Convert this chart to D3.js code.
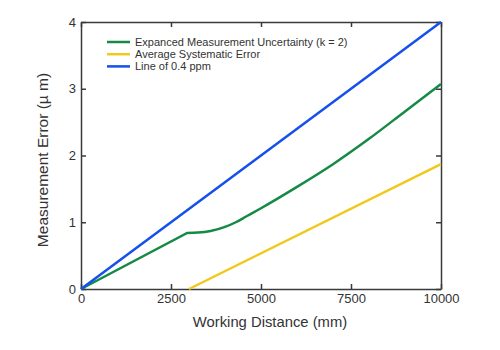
<!DOCTYPE html>
<html>
<head>
<meta charset="utf-8">
<script src="https://cdn.jsdelivr.net/npm/d3@7"></script>
<style>
  body { margin: 0; background: #fff; }
  text { font-family: "Liberation Sans", Arial, sans-serif; fill: #333; }
</style>
</head>
<body>
<div id="chart"></div>
<script>
// data
// straight rise up to the kink, then the curved part
const uncertaintyRise = [[0, 0], [2950, 0.84]];
const uncertaintyCurve = [
  [2950, 0.84], [3250, 0.845], [3600, 0.868], [4000, 0.93], [4300, 1.0],
  [4600, 1.09], [5000, 1.21], [6000, 1.53], [7000, 1.87], [8000, 2.25],
  [9000, 2.66], [10000, 3.07]
];
const systematic = [[3000, 0], [10000, 1.87]];
const ppmLine = [[0, 0], [10000, 4]];

const xTicks = [0, 2500, 5000, 7500, 10000];
const yTicks = [0, 1, 2, 3, 4];

const seriesNames = [
  'Expanced Measurement Uncertainty (k = 2)',
  'Average Systematic Error',
  'Line of 0.4 ppm'
];
const seriesColors = ['#148a45', '#f0c91c', '#1550ec'];

const width = 500, height = 350;
const margin = {top: 22, right: 59, bottom: 61, left: 81};

const svg = d3.select('#chart')
  .append('svg')
  .attr('width', width)
  .attr('height', height);

const x = d3.scaleLinear()
  .domain([0, 10000])
  .range([margin.left, width - margin.right]);
const y = d3.scaleLinear()
  .domain([0, 4])
  .range([height - margin.bottom, margin.top]);

const tickLen = 5;

// bottom axis
svg.append('g')
  .attr('transform', 'translate(0,' + y(0) + ')')
  .call(d3.axisBottom(x).tickValues(xTicks).tickFormat(d3.format('d'))
    .tickSizeInner(-tickLen).tickSizeOuter(0).tickPadding(5))
  .call(g => g.selectAll('text').attr('dy', '0.71em').style('font-size', '13px'));

// top axis, ticks only
svg.append('g')
  .attr('transform', 'translate(0,' + y(4) + ')')
  .call(d3.axisTop(x).tickValues(xTicks).tickSizeInner(-tickLen).tickSizeOuter(0).tickFormat(''));

// left axis
svg.append('g')
  .attr('transform', 'translate(' + x(0) + ',0)')
  .call(d3.axisLeft(y).tickValues(yTicks).tickFormat(d3.format('d'))
    .tickSizeInner(-tickLen).tickSizeOuter(0).tickPadding(5))
  .call(g => g.selectAll('text').style('font-size', '13px'));

// right axis, ticks only
svg.append('g')
  .attr('transform', 'translate(' + x(10000) + ',0)')
  .call(d3.axisRight(y).tickValues(yTicks).tickSizeInner(-tickLen).tickSizeOuter(0).tickFormat(''));

svg.selectAll('.domain, .tick line')
  .attr('stroke', '#3a3a3a')
  .attr('stroke-width', 1.5);
svg.selectAll('.tick text').attr('fill', '#333');

// series
const straight = d3.line()
  .x(d => x(d[0]))
  .y(d => y(d[1]));
const smooth = d3.line()
  .x(d => x(d[0]))
  .y(d => y(d[1]))
  .curve(d3.curveMonotoneX);

// green path = straight part + smooth part joined together
const greenPath = straight(uncertaintyRise) + smooth(uncertaintyCurve).replace(/^M[^LC]*/, '');

const plot = svg.append('g');
plot.append('path')
  .attr('d', greenPath)
  .attr('fill', 'none')
  .attr('stroke', seriesColors[0])
  .attr('stroke-width', 2.5);

[systematic, ppmLine].forEach((data, i) => {
  plot.append('path')
    .datum(data)
    .attr('fill', 'none')
    .attr('stroke', seriesColors[i + 1])
    .attr('stroke-width', 2.5)
    .attr('d', straight);
});

// legend
const legend = svg.append('g');
seriesNames.forEach((name, i) => {
  const ly = 42 + i * 12.2;
  legend.append('line')
    .attr('x1', 107).attr('x2', 130)
    .attr('y1', ly).attr('y2', ly)
    .attr('stroke', seriesColors[i])
    .attr('stroke-width', 2.5);
  legend.append('text')
    .attr('x', 135).attr('y', ly)
    .attr('dy', '0.35em')
    .style('font-size', '11px')
    .text(name);
});

// axis titles
svg.append('text')
  .attr('x', 270)
  .attr('y', 327)
  .attr('text-anchor', 'middle')
  .style('font-size', '14.8px')
  .text('Working Distance (mm)');

svg.append('text')
  .attr('transform', 'translate(48,160) rotate(-90)')
  .attr('text-anchor', 'middle')
  .style('font-size', '15.5px')
  .text('Measurement Error (\u00b5 m)');
</script>
</body>
</html>
